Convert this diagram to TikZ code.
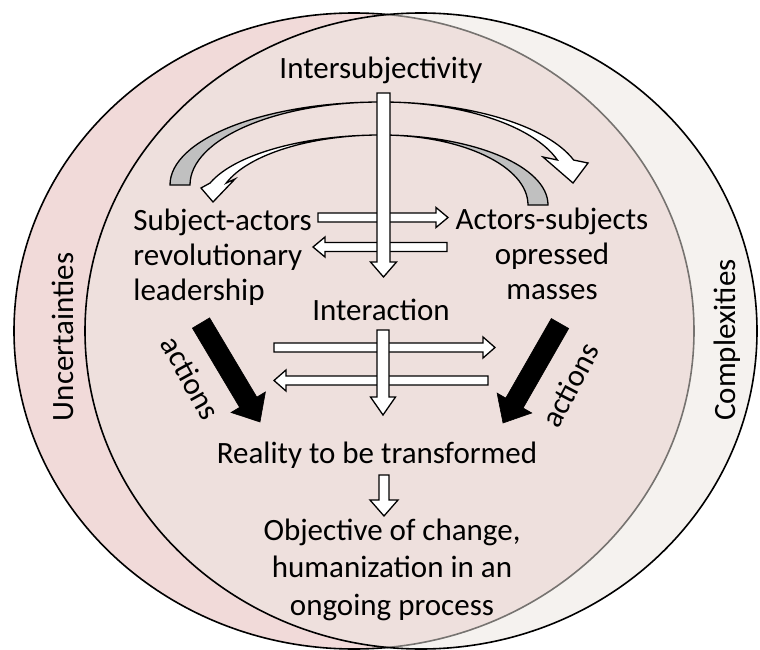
\documentclass[tikz,border=0pt]{standalone}
\usepackage{fontspec}
\setmainfont{Carlito}
\usepackage{tikz}
\usetikzlibrary{positioning, calc}

\definecolor{rosa}{RGB}{241,218,217}
\definecolor{creme}{RGB}{237,231,225}
\definecolor{cinza}{RGB}{192,192,192}

% seta em bloco: [estilo]{inicio}{fim}{meia haste}{meia ponta}{comprimento da ponta}
\newcommand{\blockarrow}[6][]{%
	\coordinate (hb) at ($(#3)!#6!(#2)$);
	\filldraw[#1] ($(#2)!#4!90:(#3)$) -- ($(hb)!#4!90:(#3)$) -- ($(hb)!#5!90:(#3)$) -- (#3)
		-- ($(hb)!#5!-90:(#3)$) -- ($(hb)!#4!-90:(#3)$) -- ($(#2)!#4!-90:(#3)$) -- cycle;}

\begin{document}
\begin{tikzpicture}[x=1pt, y=-1pt, node distance=3cm, thick,
				every node/.style={inner sep=0pt, font=\fontsize{31}{35}\selectfont},
				hollow/.style={fill=white, draw=black, line width=1.3pt},
				backside/.style={fill=cinza, draw=black, line width=1.3pt},
				action/.style={fill=black, draw=black, line width=0.6pt}]
				\fill[white] (0,0) rectangle (760,650);
				\useasboundingbox (0,0) rectangle (760,650);
				
				%Elipses:
				\filldraw[fill=rosa, line width=1.6pt] (354,331) ellipse [x radius=340, y radius=318];
				\fill[creme, fill opacity=0.5] (421,331) ellipse [x radius=336, y radius=318];
				\draw[line width=1.6pt] (421,331) ellipse [x radius=336, y radius=318];
				
				\node[rotate=90, anchor=base] (uncert) at (73,337) {Uncertainties};
				\node[rotate=90, anchor=base] (complex) at (735,340) {Complexities};
				
				%base = linha de baixo
				\node[anchor=base] (intersub) at (381,79) {Intersubjectivity};
				\node[anchor=base west, align=left] (leaders) at (133,300) {Subject-actors\\revolutionary\\leadership};
				\node[anchor=base, align=center] (masses) at (552,299) {Actors-subjects\\opressed\\masses};
				\node (interact) [below=241pt of intersub.base, anchor=base] {Interaction};
				\node[anchor=base] (reality) at (377,463) {Reality to be transformed};
				\node[anchor=base, align=center, font=\fontsize{31}{37.5}\selectfont] (objective) at (392,615)
					{Objective of change,\\humanization in an\\ongoing process};
				\node[rotate=-61] (actL) at (191,378) {actions};
				\node[rotate=62] (actR) at (570,385) {actions};
				
				%Setas curvas:
				\filldraw[backside] (170,185) arc[start angle=180, end angle=270, x radius=211, y radius=83]
					arc[start angle=270, end angle=180, x radius=191, y radius=83] -- cycle;
				\filldraw[hollow] (381,102) arc[start angle=270, end angle=342.5, x radius=202, y radius=83]
					-- (588,163) -- (573,183) -- (543,157) -- (557.4,160)
					arc[start angle=342.5, end angle=270, x radius=185, y radius=83] -- cycle;
				\filldraw[backside] (381,135) arc[start angle=270, end angle=360, x radius=167, y radius=70]
					-- (528,205) arc[start angle=360, end angle=270, x radius=147, y radius=70] -- cycle;
				\filldraw[hollow] (381,135) arc[start angle=270, end angle=198.3, x radius=180, y radius=70]
					-- (201,188) -- (213,202) -- (235,179) -- (226.3,183)
					arc[start angle=198.3, end angle=270, x radius=163, y radius=70] -- cycle;
				
				%Setas:
				\coordinate (h1a) at (318,217.5); \coordinate (h1b) at (448,217.5);
				\coordinate (h2a) at (447,247);   \coordinate (h2b) at (313,247);
				\coordinate (h3a) at (274,347.5); \coordinate (h3b) at (495,347.5);
				\coordinate (h4a) at (488,380.5); \coordinate (h4b) at (274,380.5);
				\coordinate (v1a) at (383.5,93);  \coordinate (v1b) at (383.5,277);
				\coordinate (v2a) at (383,330);   \coordinate (v2b) at (383,415);
				\coordinate (v3a) at (384,475);   \coordinate (v3b) at (384,516);
				\coordinate (aLa) at (201,323);   \coordinate (aLb) at (260,422);
				\coordinate (aRa) at (560,323.5); \coordinate (aRb) at (503,423);
				
				\blockarrow[hollow]{h1a}{h1b}{4.5pt}{10pt}{12pt}
				\blockarrow[hollow]{h2a}{h2b}{4.5pt}{10pt}{12pt}
				\blockarrow[hollow]{h3a}{h3b}{4.5pt}{10.5pt}{12pt}
				\blockarrow[hollow]{h4a}{h4b}{4.5pt}{10.5pt}{12pt}
				\blockarrow[hollow]{v1a}{v1b}{6.5pt}{13pt}{15pt}
				\blockarrow[hollow]{v2a}{v2b}{6pt}{12.5pt}{18pt}
				\blockarrow[hollow]{v3a}{v3b}{5pt}{14pt}{16pt}
				\blockarrow[action]{aLa}{aLb}{10pt}{20pt}{23pt}
				\blockarrow[action]{aRa}{aRb}{10pt}{20pt}{23pt}
			\end{tikzpicture}
\end{document}
